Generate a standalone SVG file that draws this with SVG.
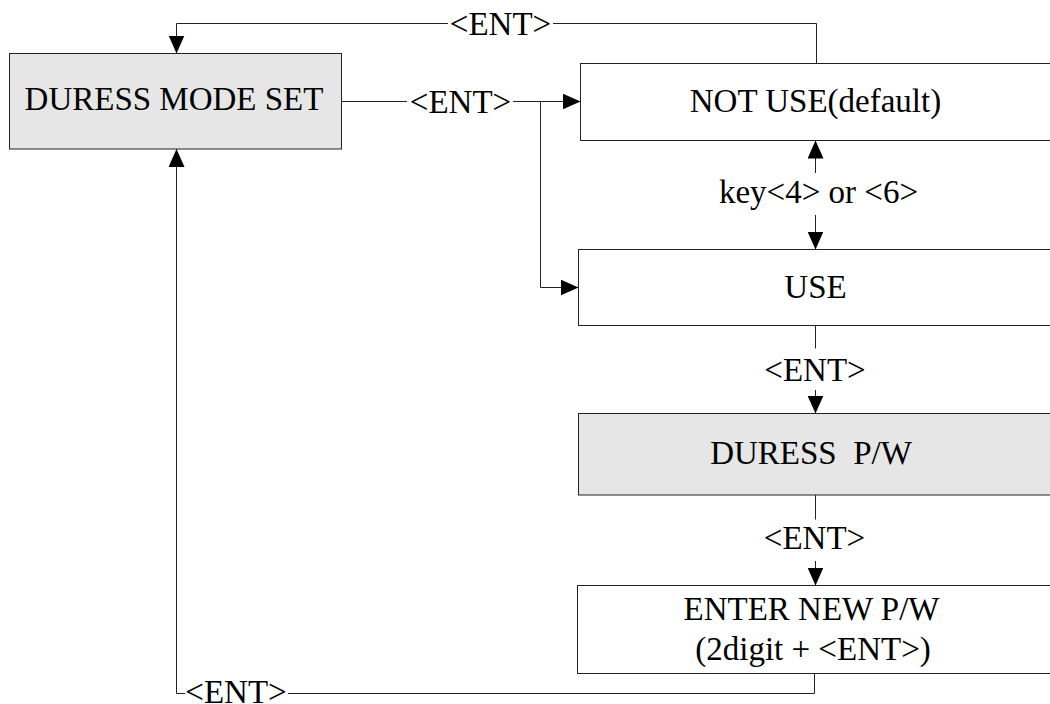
<svg xmlns="http://www.w3.org/2000/svg" width="1050" height="704" viewBox="0 0 1050 704">
  <style>
    .box { stroke: #222; stroke-width: 1; fill: #ffffff; }
    .gray { fill: #e6e6e6; }
    .t { font-family: "Liberation Serif", Tinos, "Times New Roman", "Nimbus Roman", "DejaVu Serif", serif; font-size: 33px; fill: #000; text-anchor: middle; white-space: pre; }
    .ln { fill: none; stroke: #222; stroke-width: 1; }
    .arr { marker-end: url(#ah); }
  </style>
  <defs>
    <marker id="ah" markerUnits="userSpaceOnUse" markerWidth="18" markerHeight="16" refX="18" refY="8" orient="auto" viewBox="0 0 18 16">
      <path d="M0,0 L18,8 L0,16 Z" fill="#000"/>
    </marker>
  </defs>
  <rect width="1050" height="704" fill="#ffffff"/>

  <g id="node-duress-mode-set">
    <rect class="box gray" x="9.5" y="53.5" width="332" height="95.5"/>
    <text class="t" x="174" y="110" font-family="Liberation Serif, serif">DURESS MODE SET</text>
  </g>
  <g id="node-not-use">
    <rect class="box" x="580.5" y="63.5" width="472" height="77"/>
    <text class="t" x="815.5" y="111.7">NOT USE(default)</text>
  </g>
  <g id="node-use">
    <rect class="box" x="578.5" y="249.5" width="474" height="76"/>
    <text class="t" x="815.5" y="298.3">USE</text>
  </g>
  <g id="node-duress-pw">
    <rect class="box gray" x="578.5" y="413.5" width="474" height="81.5"/>
    <text class="t" x="811" y="463.5">DURESS  P/W</text>
  </g>
  <g id="node-enter-new-pw">
    <rect class="box" x="577.5" y="585.5" width="475" height="88"/>
    <text class="t" x="811.5" y="620">ENTER NEW P/W</text>
    <text class="t" x="813" y="660">(2digit + &lt;ENT&gt;)</text>
  </g>

  <g id="connectors">
    <path class="ln" d="M816.5,63.5 V23.5 H553"/>
    <path class="ln arr" d="M448,23.5 H176.5 V53.5"/>
    <text class="t" x="500.5" y="34.5">&lt;ENT&gt;</text>

    <path class="ln" d="M341.5,101.5 H407"/>
    <text class="t" x="460.5" y="112.5">&lt;ENT&gt;</text>
    <path class="ln arr" d="M513,101.5 H580.5"/>
    <path class="ln arr" d="M540.5,101.5 V287.5 H578.5"/>

    <path class="ln arr" d="M815.5,173 V140.5"/>
    <path class="ln arr" d="M815.5,215 V249.5"/>
    <text class="t" x="818.5" y="203">key&lt;4&gt; or &lt;6&gt;</text>

    <path class="ln" d="M815.5,325.5 V348.5"/>
    <text class="t" x="815" y="380.5">&lt;ENT&gt;</text>
    <path class="ln arr" d="M815.5,390 V413.5"/>

    <path class="ln" d="M815.5,495 V519.5"/>
    <text class="t" x="814.5" y="548.5">&lt;ENT&gt;</text>
    <path class="ln arr" d="M815.5,561 V585.5"/>

    <path class="ln" d="M814.5,673.5 V693.5 H288"/>
    <text class="t" x="236" y="703">&lt;ENT&gt;</text>
    <path class="ln arr" d="M185,693.5 H176.5 V149"/>
  </g>
</svg>
